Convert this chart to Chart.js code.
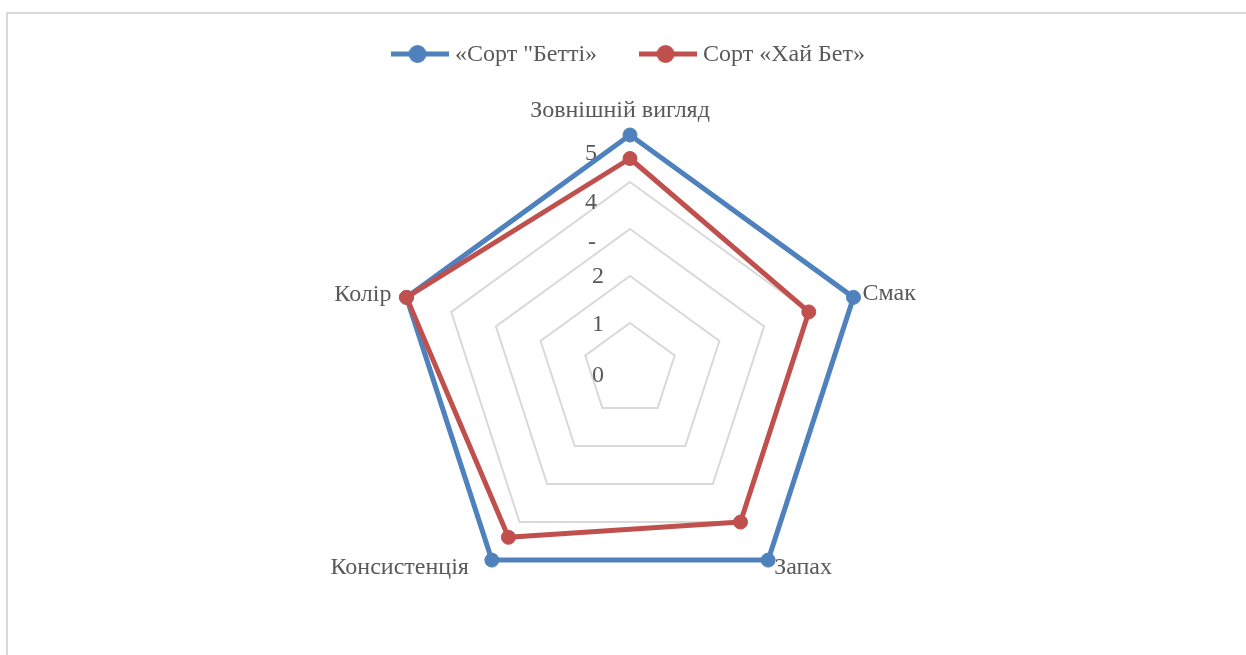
<!DOCTYPE html>
<html>
<head>
<meta charset="utf-8">
<script src="https://cdn.jsdelivr.net/npm/chart.js@4.4.1/dist/chart.umd.min.js"></script>
<style>
  html, body { margin: 0; padding: 0; background: #ffffff; overflow: hidden; }
  #frame {
    position: absolute; left: 6px; top: 12px; width: 1400px; height: 800px;
    border-top: 2px solid #d9d9d9; border-left: 2px solid #d9d9d9;
  }
  #chart { position: absolute; left: 0; top: 0; }
</style>
</head>
<body>
<div id="frame"></div>
<canvas id="chart" width="1246" height="655"></canvas>
<script>
// Sensory evaluation of two varieties (score 0–5)
const categories = ['Зовнішній вигляд', 'Смак', 'Запах', 'Консистенція', 'Колір'];
const seriesNames = ['«Сорт "Бетті»', 'Сорт «Хай Бет»'];
const bettiValues = [5, 5, 5, 5, 5];
const haiBetValues = [4.5, 4, 4, 4.4, 5];
const tickValues = [0, 1, 2, 3, 4, 5];
const tickLabels = ['0', '1', '2', '-', '4', '5'];

const FONT = "'Liberation Serif', 'Times New Roman', serif";
const TEXT_COLOR = '#595959';
const BLUE = '#4f81bd';
const RED = '#c0504d';

// Legend marker: a thick line with a dot on it
function lineDotSwatch(color) {
  const cv = document.createElement('canvas');
  cv.width = 58; cv.height = 26;
  const g = cv.getContext('2d');
  g.strokeStyle = color; g.lineWidth = 5;
  g.beginPath(); g.moveTo(0, 12); g.lineTo(58, 12); g.stroke();
  g.fillStyle = color;
  g.beginPath(); g.arc(27, 12, 9, 0, Math.PI * 2); g.fill();
  return cv;
}

// Extra room between the legend and the plot
const legendSpacer = {
  id: 'legendSpacer',
  beforeLayout(chart, args, opts) {
    const lg = chart.legend;
    if (lg && !lg._spaced) {
      const fit = lg.fit;
      lg.fit = function () { fit.call(this); this.height += opts.extra; };
      lg._spaced = true;
    }
  }
};

// Value labels beside the vertical axis, and category labels at the spokes
const radarText = {
  id: 'radarText',
  beforeDatasetsDraw(chart, args, opts) {
    const s = chart.scales.r;
    const ctx = chart.ctx;
    ctx.save();
    ctx.font = opts.size + 'px ' + FONT;
    ctx.fillStyle = TEXT_COLOR;
    ctx.textBaseline = 'alphabetic';

    ctx.textAlign = 'center';
    tickValues.forEach((v, i) => {
      const d = s.getDistanceFromCenterForValue(v);
      const n = opts.tickNudge[i];
      ctx.fillText(tickLabels[i], s.xCenter + n[0], s.yCenter - d + n[1]);
    });

    const outer = s.getDistanceFromCenterForValue(s.max);
    categories.forEach((c, i) => {
      const p = s.getPointPosition(i, outer);
      const pl = opts.placement[i];
      ctx.textAlign = pl.align;
      ctx.fillText(c, p.x + pl.dx, p.y + pl.dy);
    });
    ctx.restore();
  }
};

const swatches = [lineDotSwatch(RED), lineDotSwatch(BLUE)];

new Chart(document.getElementById('chart'), {
  type: 'radar',
  data: {
    labels: categories,
    datasets: [
      {
        label: seriesNames[1],
        data: haiBetValues,
        borderColor: RED,
        backgroundColor: RED,
        pointBackgroundColor: RED,
        pointBorderColor: RED,
        borderWidth: 5,
        pointRadius: 7,
        pointBorderWidth: 1,
        fill: false
      },
      {
        label: seriesNames[0],
        data: bettiValues,
        borderColor: BLUE,
        backgroundColor: BLUE,
        pointBackgroundColor: BLUE,
        pointBorderColor: BLUE,
        borderWidth: 5,
        pointRadius: 7,
        pointBorderWidth: 1,
        fill: false
      }
    ]
  },
  options: {
    responsive: false,
    devicePixelRatio: 1,
    animation: false,
    layout: { padding: { left: 15, right: 0, top: -4, bottom: 50 } },
    elements: { line: { tension: 0, borderJoinStyle: 'round' } },
    scales: {
      r: {
        min: 0,
        max: 5,
        ticks: { stepSize: 1, display: false },
        grid: { color: '#d9d9d9', lineWidth: 2 },
        angleLines: { display: false },
        pointLabels: { display: false }
      }
    },
    plugins: {
      tooltip: { enabled: false },
      legendSpacer: { extra: 58 },
      radarText: {
        size: 24,
        tickNudge: [[-32, 12], [-32, 8], [-32, 7], [-38, 20], [-39, 27], [-39, 25]],
        placement: [
          { align: 'center', dx: -10, dy: -18 },
          { align: 'left', dx: 9, dy: 3 },
          { align: 'left', dx: 6, dy: 14 },
          { align: 'right', dx: -23, dy: 14 },
          { align: 'right', dx: -15, dy: 4 }
        ]
      },
      legend: {
        position: 'top',
        reverse: true,
        labels: {
          usePointStyle: true,
          pointStyleWidth: 47,
          padding: 47,
          color: TEXT_COLOR,
          font: { family: FONT, size: 24 },
          generateLabels(chart) {
            const items = Chart.defaults.plugins.legend.labels.generateLabels(chart);
            items.forEach(it => { it.pointStyle = swatches[it.datasetIndex]; });
            return items;
          }
        }
      }
    }
  },
  plugins: [legendSpacer, radarText]
});
</script>
</body>
</html>
